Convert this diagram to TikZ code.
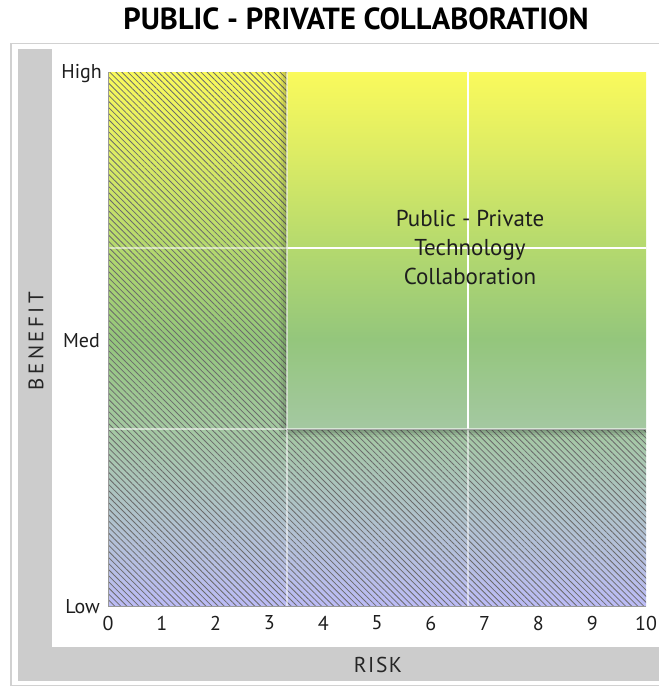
\documentclass[tikz,border=0pt]{standalone}
\usepackage{fontspec}
\setmainfont{PT Sans}
\usetikzlibrary{patterns.meta}
\definecolor{lav}{HTML}{BCBCF6}
\definecolor{grayg}{HTML}{A4C8A2}
\definecolor{greenm}{HTML}{94C67C}
\definecolor{greent}{HTML}{B4D96E}
\definecolor{yelg}{HTML}{DDEC64}
\definecolor{yel}{HTML}{FAFA5C}
\definecolor{barg}{HTML}{CCCCCC}
\definecolor{txt}{HTML}{1E1E1E}
\pgfdeclareverticalshading{plotshade}{100bp}{color(0bp)=(lav); color(25bp)=(lav); color(41.5bp)=(grayg); color(50bp)=(greenm); color(58.5bp)=(greent); color(67.5bp)=(yelg); color(75bp)=(yel); color(100bp)=(yel)}
\tikzset{
  lbl/.style={text=txt, font=\fontsize{20}{24}\selectfont, inner sep=0pt},
  hatch/.style={pattern={Lines[angle=-45,distance=4.3pt,line width=0.8pt]}, pattern color=black!58},
  gridw/.style={white, line width=1.8pt},
}
\begin{document}
\begin{tikzpicture}[x=1pt,y=-1pt]
\useasboundingbox (0,0) rectangle (659,686);
% outer frame
\draw[black!18, line width=1.2pt] (11,43.5) rectangle (665,685.5);
% gray bars
\fill[barg] (18,48.5) rectangle (52,681);
\fill[barg] (18,647) rectangle (665,681);
% plot gradient
\shade[shading=plotshade] (108,72) rectangle (646,606);
% hatched L region
\fill[hatch] (108,72) -- (287,72) -- (287,429) -- (646,429) -- (646,606) -- (108,606) -- cycle;
% shadow of highlight box
\begin{scope}
  \clip (108,72) -- (287,72) -- (287,429) -- (646,429) -- (646,606) -- (108,606) -- cycle;
  \foreach \d/\o in {8/0.05,6/0.06,4/0.07,2/0.09}{
    \fill[black, opacity=\o] (287-\d,72) rectangle (646,429+\d);
  }
\end{scope}
% grid lines
\draw[gridw, opacity=0.55] (287,72) -- (287,606);
\draw[gridw, opacity=0.55] (468,72) -- (468,606);
\draw[gridw, opacity=0.55] (108,248) -- (646,248);
\draw[gridw, opacity=0.55] (108,429) -- (646,429);
\draw[gridw] (468,72) -- (468,428);
\draw[gridw] (288,248) -- (646,248);
% box bottom edge hint
\draw[black!35, line width=0.8pt] (287,429.5) -- (646,429.5);
% plot axes edges
\draw[black!40, line width=1pt] (108,72) -- (108,606) -- (646,606);
% title
\node[text=black, font=\fontsize{30.5}{35}\selectfont\bfseries, inner sep=0pt] (title) at (356,19) {PUBLIC - PRIVATE COLLABORATION};
% axis texts
\node[lbl, anchor=east] (high) at (102,74) {High};
\node[lbl, anchor=east] (med) at (100,341) {Med};
\node[lbl, anchor=east] (low) at (100,607) {Low};
\foreach \i in {0,...,10}{
  \node[lbl] (t\i) at (108+53.8*\i,623) {\i};
}
\node[lbl, font=\fontsize{21}{24}\selectfont, rotate=90, text=black!85] (benefit) at (36,341) {B\,E\,N\,E\,F\,I\,T};
\node[lbl, font=\fontsize{21.5}{24}\selectfont, text=black!85] (risk) at (378,665) {R\kern1.5pt I\kern1.5pt S\kern1.5pt K};
% center text
\node[lbl, font=\fontsize{23}{29}\selectfont, align=center] (center) at (470,247) {Public - Private\\Technology\\Collaboration};
\end{tikzpicture}
\end{document}
